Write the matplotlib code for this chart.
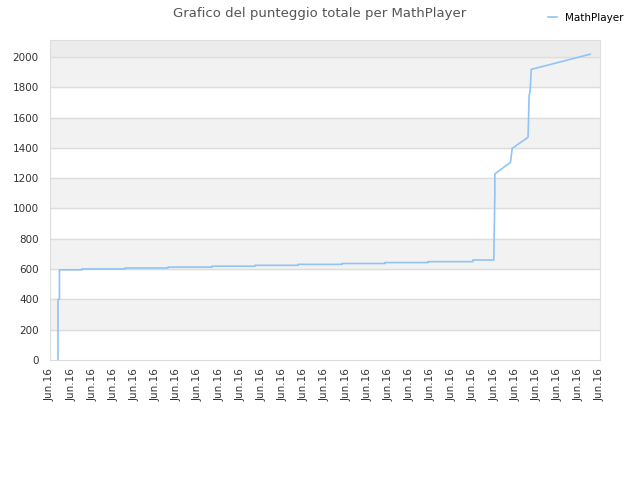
import numpy as np
import matplotlib.pyplot as plt

# score history (x in tick units, one tick per label)
t = [0.38, 0.38, 0.45, 0.45, 1.51, 1.51, 3.55, 3.55, 5.58, 5.58, 7.66, 7.66,
     9.69, 9.69, 11.72, 11.72, 13.81, 13.81, 15.84, 15.84, 17.87, 17.87,
     19.99, 19.99, 20.98, 21.03, 21.03, 21.77, 21.85, 22.6, 22.65, 22.7,
     22.75, 25.53]
score = [0, 400, 400, 595, 595, 601, 601, 607, 607, 613, 613, 619,
         619, 625, 625, 631, 631, 637, 637, 643, 643, 649,
         649, 660, 660, 1100, 1228, 1305, 1397, 1470, 1742, 1782,
         1918, 2018]
n_ticks = 27
tick_labels = ["Jun.16"] * n_ticks

fig = plt.figure(figsize=(6.4, 4.8), dpi=100)
ax = fig.add_axes([0.078, 0.25, 0.8595, 0.6667])

ymax = 2112
# alternating bands
for i, lo in enumerate(range(0, 2000, 200)):
    if i % 2 == 1:
        ax.axhspan(lo, lo + 200, color="#f2f2f2", zorder=0)
ax.axhspan(2000, ymax, color="#ececec", zorder=0)
for y in range(200, 2001, 200):
    ax.axhline(y, color="#dddddd", lw=1, zorder=1)

ax.plot(t, score, color="#90c4f5", lw=1.2, label="MathPlayer", zorder=3)

ax.set_xlim(0, n_ticks - 1)
ax.set_ylim(0, ymax)
ax.set_xticks(np.arange(n_ticks))
ax.set_xticklabels(tick_labels, rotation=90, fontsize=7.5, color="#333333")
ax.set_yticks(range(0, 2001, 200))
ax.tick_params(axis="y", labelsize=7.5, colors="#333333", length=0, pad=8)
ax.tick_params(axis="x", length=0, pad=6)
for s in ax.spines.values():
    s.set_color("#dddddd")

fig.suptitle("Grafico del punteggio totale per MathPlayer", fontsize=9.5,
             color="#555555", y=0.985)
ax.legend(loc="upper right", bbox_to_anchor=(1.06, 1.115), frameon=False,
          fontsize=7.5, handlelength=0.8)

fig.savefig("out.png", dpi=100)
